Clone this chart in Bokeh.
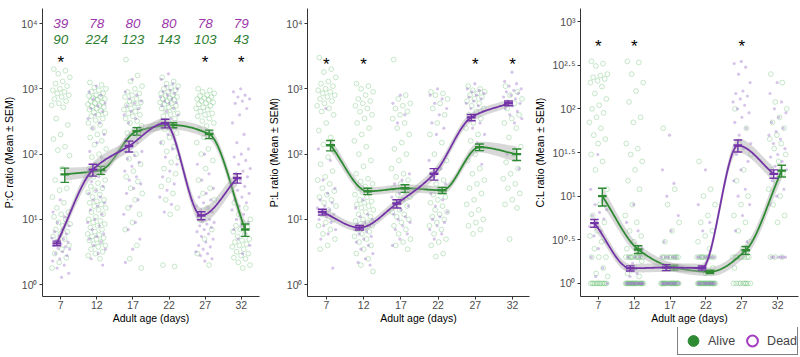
import numpy as np
from bokeh.plotting import figure
from bokeh.layouts import row, column
from bokeh.models import Range1d, FixedTicker, CustomJSTickFormatter, Legend, LegendItem, Label
from bokeh.core.properties import value
from bokeh.embed import file_html
from bokeh.resources import INLINE

# ---------------- data ----------------
AGES = [7, 12, 17, 22, 27, 32]
N_ALIVE = [90, 224, 123, 143, 103, 43]
N_DEAD = [39, 78, 80, 80, 78, 79]

# Panel a : P:C ratio
PC_ALIVE_MEAN = [49, 57, 225, 278, 203, 7.0]
PC_ALIVE_SEM = [12, 8, 30, 25, 30, 1.5]
PC_DEAD_MEAN = [4.3, 58, 133, 297, 11.5, 43]
PC_DEAD_SEM = [0.35, 12, 25, 45, 1.6, 7]
PC_ALIVE_BAND = [0.10, 0.07, 0.07, 0.07, 0.08, 0.12]
PC_DEAD_BAND = [0.07, 0.11, 0.09, 0.08, 0.12, 0.11]
PC_SIG = [7, 27, 32]

# Panel b : P:L ratio
PL_ALIVE_MEAN = [137, 27, 30, 28, 128, 100]
PL_ALIVE_SEM = [25, 3, 4, 3, 15, 20]
PL_DEAD_MEAN = [13, 7.5, 17.5, 50, 365, 600]
PL_DEAD_SEM = [1.3, 0.6, 2.5, 10, 40, 50]
PL_ALIVE_BAND = [0.10, 0.06, 0.06, 0.06, 0.08, 0.12]
PL_DEAD_BAND = [0.07, 0.06, 0.07, 0.08, 0.07, 0.06]
PL_SIG = [7, 12, 27, 32]

# Panel c : C:L ratio
CL_ALIVE_MEAN = [10, 2.45, 1.52, 1.36, 2.4, 19.6]
CL_ALIVE_SEM = [2.3, 0.25, 0.1, 0.06, 0.25, 3]
CL_DEAD_MEAN = [4.9, 1.49, 1.52, 1.5, 38, 18]
CL_DEAD_SEM = [0.5, 0.1, 0.12, 0.08, 6, 2]
CL_ALIVE_BAND = [0.10, 0.06, 0.05, 0.05, 0.07, 0.10]
CL_DEAD_BAND = [0.07, 0.05, 0.05, 0.05, 0.08, 0.08]
CL_SIG = [7, 12, 27]

PC_ALIVE_PTS = {
    7: [2000, 1900, 1700, 1500, 1300, 1200, 1100, 1000, 950, 900, 850, 800, 750, 700, 650, 600, 560, 520,
        350, 280, 200, 170, 130, 115, 95, 60, 40, 30, 28, 22, 18, 15, 13, 12, 11, 10, 9, 8.5, 8, 7, 6.5,
        6, 5.5, 5, 4.5, 4, 3.5, 3, 2.6, 2.2, 1.8],
    12: [1250, 1150, 1050, 1000, 950, 900, 850, 800, 780, 750, 720, 700, 680, 650, 620, 600, 580, 560, 540,
         520, 500, 480, 460, 440, 420, 400, 380, 350, 330, 300, 280, 250, 220, 200, 180, 160, 140, 120, 100,
         90, 80, 70, 60, 50, 45, 40, 36, 32, 30, 28, 26, 24, 22, 20, 19, 18, 17, 16, 15, 14, 13, 12, 11, 10,
         9.5, 9, 8.5, 8, 7.5, 7, 6.5, 6, 5.8, 5.5, 5.2, 5, 4.8, 4.5, 4.2, 4, 3.8, 3.5, 3.2, 3, 2.8, 2.5],
    17: [2800, 1600, 1300, 1100, 1000, 900, 850, 800, 750, 700, 650, 620, 600, 560, 520, 500, 480, 450, 420,
         400, 380, 350, 320, 300, 270, 240, 210, 180, 150, 120, 100, 85, 70, 55, 45, 38, 30, 25, 20, 15, 12,
         9, 7, 4, 2.5, 1.8],
    22: [1500, 1300, 1200, 1100, 1050, 1000, 950, 900, 850, 800, 780, 750, 720, 700, 680, 650, 620, 600, 580,
         550, 520, 500, 480, 450, 420, 400, 380, 350, 320, 300, 270, 240, 210, 180, 150, 130, 110, 90, 75, 60,
         50, 40, 32, 25, 20, 15, 12, 2.0, 1.9],
    27: [1000, 950, 900, 850, 800, 780, 750, 720, 700, 680, 650, 620, 600, 580, 550, 520, 500, 480, 450, 420,
         400, 380, 350, 320, 300, 270, 240, 210, 180, 150, 120, 100, 80, 60, 40, 30, 25, 20, 15, 10, 7, 5, 3, 2],
    32: [18, 15, 12, 10, 9, 8, 7.5, 7, 6.5, 6, 5.5, 5, 4.8, 4.5, 4.2, 4, 3.8, 3.5, 3.2, 3, 2.8, 2.6, 2.5,
         2.2, 2, 1.8],
}
PC_DEAD_PTS = {
    7: [20, 13, 11, 9, 8, 7, 6.5, 6, 5.5, 5.2, 5, 4.8, 4.5, 4.2, 4, 3.8, 3.6, 3.5, 3.2, 3, 2.8, 2.5, 2.3, 2,
        1.8, 1.5, 1.3],
    12: [1100, 900, 800, 700, 600, 550, 500, 450, 400, 350, 300, 250, 200, 150, 110, 90, 70, 55, 45, 38, 32,
         28, 25, 22, 20, 18, 16, 14, 12, 10, 9, 8, 7, 6, 5.5, 5, 4.5, 4, 3.5, 3, 2.5, 2],
    17: [1400, 900, 800, 700, 650, 600, 550, 500, 450, 400, 350, 300, 250, 200, 170, 150, 130, 110, 95, 85,
         75, 65, 55, 45, 40, 35, 30, 25, 20, 16, 12, 9, 7, 5, 3.5, 2.2],
    22: [1700, 1400, 1200, 1100, 1000, 950, 900, 850, 800, 750, 700, 650, 620, 600, 550, 500, 450, 400, 350,
         300, 250, 200, 150, 120, 90, 70, 55, 45, 35, 28, 22, 17, 13],
    27: [100, 70, 50, 40, 30, 25, 22, 20, 18, 16, 15, 14, 13, 12, 11, 10, 9.5, 9, 8.5, 8, 7.5, 7, 6.5, 6,
         5.5, 5, 4.5, 4, 3.8, 3.5, 3.2, 3, 2.8, 2.5, 2.3],
    32: [1000, 900, 800, 750, 700, 650, 600, 500, 400, 300, 200, 150, 120, 100, 90, 80, 70, 60, 55, 50, 45,
         40, 36, 32, 28, 25, 22, 20, 18, 16, 14, 12, 10, 9, 8, 7, 6, 5, 4, 3],
}

PL_ALIVE_PTS = {
    7: [3000, 2000, 1800, 1500, 1300, 1200, 1100, 1000, 950, 900, 850, 800, 750, 700, 650, 600, 550, 500,
        450, 400, 300, 230, 180, 140, 110, 90, 70, 55, 45, 40, 35, 30, 27, 24, 22, 20, 18, 16, 14, 12, 10,
        9, 8, 7, 6, 5, 4, 3.5],
    12: [1200, 1100, 1000, 900, 800, 700, 650, 600, 550, 500, 450, 400, 350, 300, 250, 200, 160, 130, 100,
         80, 65, 50, 42, 38, 35, 32, 30, 28, 26, 24, 22, 20, 19, 18, 17, 16, 15, 14, 13, 12, 11, 10, 9.5, 9,
         8.5, 8, 7.5, 7, 6.5, 6, 5.5, 5, 4.5, 4, 3.5, 3, 2.5, 2, 1.6],
    17: [2800, 800, 700, 600, 550, 500, 450, 400, 350, 300, 250, 200, 150, 120, 100, 80, 60, 50, 45, 40, 35,
         30, 27, 24, 22, 20, 18, 16, 14, 13, 12, 11, 10, 9, 8, 7, 6, 5, 4.5, 4, 3.5],
    22: [900, 850, 800, 700, 600, 500, 400, 300, 200, 150, 100, 80, 60, 50, 40, 35, 30, 27, 24, 22, 20, 18,
         16, 14, 13, 12, 11, 10, 9, 8, 7, 6, 5, 4.5, 4, 3, 2.7],
    27: [1100, 1000, 950, 900, 850, 800, 750, 700, 650, 600, 550, 500, 450, 400, 350, 300, 250, 200, 160,
         120, 100, 80, 60, 50, 40, 35, 30, 25, 20, 17, 14, 12, 10, 9, 8, 7, 6],
    32: [1100, 900, 800, 700, 600, 500, 400, 350, 300, 250, 180, 130, 100, 75, 60, 50, 42, 35, 30, 25, 20,
         17, 15, 5],
}
PL_DEAD_PTS = {
    7: [500, 120, 80, 40, 30, 25, 20, 18, 16, 15, 14, 13, 12, 11, 10, 9, 8, 7, 6, 5, 1.8],
    12: [20, 15, 12, 11, 10, 9, 8.5, 8, 7.5, 7, 6.5, 6, 5.5, 5, 4.5, 4, 3.5, 3, 2.5, 2.2, 2],
    17: [800, 600, 400, 300, 50, 40, 35, 30, 25, 22, 20, 18, 16, 14, 12, 11, 10, 9, 8, 7, 6, 5, 4],
    22: [1000, 800, 700, 600, 500, 400, 300, 250, 200, 80, 60, 45, 35, 30, 25, 20, 16, 13, 11, 10, 9, 8, 7,
         6, 5],
    27: [1200, 1000, 950, 900, 850, 800, 750, 700, 650, 600, 550, 500, 450, 400, 350, 300, 250, 200, 150,
         100, 70],
    32: [1800, 1300, 1200, 1100, 1000, 950, 900, 850, 800, 750, 700, 650, 600, 550, 500, 450, 400, 350, 300,
         100, 60],
}

CL_ALIVE_PTS = {
    7: [350, 330, 310, 250, 240, 230, 220, 210, 200, 180, 150, 130, 110, 100, 90, 80, 70, 60, 50, 45, 40, 30,
        25, 20, 12, 8, 6, 5, 4, 3.5, 3, 2.5, 2, 2, 2, 1.5, 1.3, 1.2, 1, 1, 1, 1, 1, 1, 1, 1, 1, 1, 1, 1],
    12: [350, 340, 250, 200, 160, 120, 80, 70, 40, 35, 30, 25, 20, 15, 12, 8, 6, 5, 4, 3.5, 3, 2.5, 2, 2, 2,
         2, 2, 2, 2, 2, 2, 2, 1.8, 1.5, 1.3, 1.2, 1, 1, 1, 1, 1, 1, 1, 1, 1, 1, 1, 1, 1, 1, 1, 1, 1, 1, 1, 1],
    17: [60, 12, 8, 5, 4, 3, 2, 2, 2, 2, 2, 2, 2, 2, 2, 1.5, 1, 1, 1, 1, 1, 1, 1, 1, 1, 1, 1, 1, 1, 1, 1, 1,
         1, 1, 1, 1],
    22: [25, 12, 10, 8, 6, 5, 4, 3.5, 3, 2.5, 2, 2, 2, 2, 2, 2, 2, 2, 2, 1.5, 1.3, 1, 1, 1, 1, 1, 1, 1, 1,
         1, 1, 1, 1, 1, 1, 1, 1, 1, 1, 1, 1, 1],
    27: [100, 60, 40, 30, 20, 15, 10, 8, 6, 5, 4, 3, 2.5, 2, 2, 2, 2, 2, 2, 2, 2, 1.5, 1, 1, 1, 1, 1, 1, 1,
         1, 1],
    32: [250, 200, 120, 100, 80, 70, 60, 50, 45, 40, 35, 30, 25, 20, 18, 15, 12, 10, 8, 6, 5, 2, 2, 2],
}
CL_DEAD_PTS = {
    7: [30, 12, 9, 8, 7, 6.5, 6, 5.5, 5, 4.5, 4, 3.5, 3, 2.5, 2, 1.5, 1.2, 1],
    12: [8, 5, 4, 3, 2.5, 2, 2, 2, 1.7, 1.5, 1.3, 1.2, 1, 1, 1, 1, 1, 1, 1, 1, 1, 1, 1, 1, 1, 1],
    17: [50, 20, 14, 10, 6, 4, 3, 2, 2, 2, 2, 2, 1.5, 1, 1, 1, 1, 1, 1, 1, 1, 1, 1, 1, 1],
    22: [20, 8, 5, 4, 2, 2, 2, 2, 2, 2, 2, 1.5, 1, 1, 1, 1, 1, 1, 1, 1, 1, 1, 1, 1],
    27: [350, 330, 300, 250, 200, 160, 150, 140, 130, 120, 110, 100, 90, 80, 70, 60, 50, 40, 35, 30, 25, 20,
         15, 12, 10, 8, 6, 4, 3],
    32: [200, 150, 120, 100, 90, 80, 70, 60, 55, 50, 45, 40, 35, 30, 28, 25, 22, 20, 18, 15, 12, 10, 8, 2, 2,
         2, 2, 2, 2],
}

LEGEND_LABELS = ["Alive", "Dead"]

# ---------------- style ----------------
FONT = "Liberation Sans"
GREEN = "#2e8b34"
PURPLE = "#7434a8"
GREEN_PT = "#5cb865"
PURPLE_PT = "#9466c4"
NUM_PURPLE = "#9c37ab"
NUM_GREEN = "#2e7d32"
LEGEND_PURPLE = "#a23cc0"
AXIS_COL = "#333333"

SUP = """
const sup = {"0":"\u2070","1":"\u00b9","2":"\u00b2","3":"\u00b3","4":"\u2074","5":"\u2075",
             "6":"\u2076","7":"\u2077","8":"\u2078","9":"\u2079",".":"\u00b7","-":"\u207b"};
const e = Math.round(Math.log10(tick) * 10) / 10;
return "10" + String(e).split("").map(c => sup[c]).join("");
"""


def pchip(xk, yk, xs):
    xk = np.asarray(xk, float)
    yk = np.asarray(yk, float)
    h = np.diff(xk)
    d = np.diff(yk) / h
    m = np.zeros_like(yk)
    for k in range(1, len(yk) - 1):
        if d[k - 1] * d[k] > 0:
            w1 = 2 * h[k] + h[k - 1]
            w2 = h[k] + 2 * h[k - 1]
            m[k] = (w1 + w2) / (w1 / d[k - 1] + w2 / d[k])
    m[0] = d[0]
    m[-1] = d[-1]
    idx = np.clip(np.searchsorted(xk, xs) - 1, 0, len(xk) - 2)
    hh = xk[idx + 1] - xk[idx]
    t = (xs - xk[idx]) / hh
    h00 = 2 * t**3 - 3 * t**2 + 1
    h10 = t**3 - 2 * t**2 + t
    h01 = -2 * t**3 + 3 * t**2
    h11 = t**3 - t**2
    return h00 * yk[idx] + h10 * hh * m[idx] + h01 * yk[idx + 1] + h11 * hh * m[idx + 1]


def style_axes(p):
    for ax in (p.xaxis[0], p.yaxis[0]):
        ax.axis_line_color = AXIS_COL
        ax.axis_line_width = 1
        ax.major_tick_line_color = AXIS_COL
        ax.major_tick_out = 3
        ax.major_tick_in = 0
        ax.minor_tick_line_color = None
        ax.major_label_text_color = "#4d4d4d"
        ax.major_label_text_font = FONT
        ax.major_label_text_font_size = "10.5px"
        ax.axis_label_text_font = FONT
        ax.axis_label_text_font_size = "10.5px"
        ax.axis_label_text_font_style = "normal"
        ax.axis_label_text_color = "black"
        ax.major_label_standoff = 2
        ax.axis_label_standoff = 3
    p.xaxis[0].major_label_standoff = 1
    p.xaxis[0].axis_label_standoff = 0
    p.xgrid.grid_line_color = None
    p.ygrid.grid_line_color = None
    p.outline_line_color = None


def draw_points(p, pts, color_kind, phase):
    xs, ys = [], []
    for age in AGES:
        vals = pts[age]
        n = len(vals)
        off = ((np.arange(n) * 0.6180339887 + phase) % 1.0 - 0.5) * 2.6
        xs.extend(list(age + off))
        ys.extend(vals)
    if color_kind == "alive":
        p.scatter(xs, ys, marker="circle", size=4.8, fill_color=None, line_color=GREEN_PT,
                  line_alpha=0.38, line_width=0.9)
    else:
        p.scatter(xs, ys, marker="circle", size=3.2, fill_color=PURPLE_PT, fill_alpha=0.38,
                  line_color=None)


def draw_group(p, mean, sem, band, color, dodge):
    xk = np.array(AGES, float) + dodge
    lk = np.log10(mean)
    xs = np.linspace(xk[0], xk[-1], 200)
    ls = pchip(xk, lk, xs)
    hw = np.interp(xs, xk, band)
    p.varea(x=xs, y1=10 ** (ls - hw), y2=10 ** (ls + hw), fill_color="#a8a8a8", fill_alpha=0.45)
    p.line(xs, 10 ** ls, line_color=color, line_width=1.8)
    lo = [m - s for m, s in zip(mean, sem)]
    hi = [m + s for m, s in zip(mean, sem)]
    cw = 0.6
    p.segment(x0=list(xk), y0=lo, x1=list(xk), y1=hi, line_color=color, line_width=1.4)
    p.segment(x0=list(xk - cw), y0=lo, x1=list(xk + cw), y1=lo, line_color=color, line_width=1.4)
    p.segment(x0=list(xk - cw), y0=hi, x1=list(xk + cw), y1=hi, line_color=color, line_width=1.4)
    p.segment(x0=list(xk - cw), y0=list(mean), x1=list(xk + cw), y1=list(mean), line_color=color,
              line_width=2.4)


def make_panel(letter, ylabel, a_mean, a_sem, d_mean, d_sem, a_band, d_band, a_pts, d_pts,
               sig, sig_y, yticks, ylog_range, xr, width, left, right, letter_x):
    p = figure(width=width, height=327, y_axis_type="log", output_backend="svg",
               toolbar_location=None, min_border_left=left, min_border_right=right,
               min_border_top=8, min_border_bottom=31,
               x_range=Range1d(*xr), y_range=Range1d(10 ** ylog_range[0], 10 ** ylog_range[1]))
    p.background_fill_color = "white"
    p.border_fill_color = "white"
    style_axes(p)
    p.xaxis.ticker = FixedTicker(ticks=AGES)
    p.yaxis.ticker = FixedTicker(ticks=yticks)
    p.yaxis.formatter = CustomJSTickFormatter(code=SUP)
    p.xaxis.axis_label = "Adult age (days)"
    p.yaxis.axis_label = ylabel

    draw_points(p, a_pts, "alive", 0.13)
    draw_points(p, d_pts, "dead", 0.47)
    draw_group(p, a_mean, a_sem, a_band, GREEN, 0.55)
    draw_group(p, d_mean, d_sem, d_band, PURPLE, -0.55)

    p.text(x=sig, y=[sig_y] * len(sig), text=["*"] * len(sig), text_align="center",
           text_baseline="middle", text_font=value(FONT), text_font_size="17px", text_color="black")

    p.add_layout(Label(x=letter_x, y=274, x_units="screen", y_units="screen", text=letter,
                       text_font=FONT, text_font_size="17px", text_font_style="bold",
                       text_color="black"))
    return p


pa = make_panel("a", "P:C ratio (Mean \u00b1 SEM)", PC_ALIVE_MEAN, PC_ALIVE_SEM, PC_DEAD_MEAN,
                PC_DEAD_SEM, PC_ALIVE_BAND, PC_DEAD_BAND, PC_ALIVE_PTS, PC_DEAD_PTS,
                PC_SIG, 10 ** 3.40, [1, 10, 100, 1000, 10000], (-0.18, 4.23), (4.47, 34.53),
                265, 33, 6, -28)
pa.text(x=AGES, y=[10 ** 4.0] * 6, text=[str(n) for n in N_DEAD], text_align="center",
        text_baseline="middle", text_font=value(FONT), text_font_size="13.5px",
        text_font_style="italic", text_color=NUM_PURPLE)
pa.text(x=AGES, y=[10 ** 3.75] * 6, text=[str(n) for n in N_ALIVE], text_align="center",
        text_baseline="middle", text_font=value(FONT), text_font_size="13.5px",
        text_font_style="italic", text_color=NUM_GREEN)

pb = make_panel("b", "P:L ratio (Mean \u00b1 SEM)", PL_ALIVE_MEAN, PL_ALIVE_SEM, PL_DEAD_MEAN,
                PL_DEAD_SEM, PL_ALIVE_BAND, PL_DEAD_BAND, PL_ALIVE_PTS, PL_DEAD_PTS,
                PL_SIG, 10 ** 3.38, [1, 10, 100, 1000, 10000], (-0.18, 4.23), (4.46, 34.27),
                265, 41, 1, -24)

pc = make_panel("c", "C:L ratio (Mean \u00b1 SEM)", CL_ALIVE_MEAN, CL_ALIVE_SEM, CL_DEAD_MEAN,
                CL_DEAD_SEM, CL_ALIVE_BAND, CL_DEAD_BAND, CL_ALIVE_PTS, CL_DEAD_PTS,
                CL_SIG, 10 ** 2.72, [10 ** (k / 2) for k in range(7)], (-0.15, 3.15), (4.51, 34.9),
                270, 48, 2, -30)

# legend strip below the panels (marker renderers sit outside the visible range)
pl = figure(width=800, height=30, output_backend="svg", toolbar_location=None,
            x_axis_type=None, y_axis_type=None, min_border=0,
            x_range=Range1d(0, 1), y_range=Range1d(0, 1))
pl.outline_line_color = None
pl.xgrid.grid_line_color = None
pl.ygrid.grid_line_color = None
r_alive = pl.scatter(x=[-5], y=[-5], marker="circle", size=13, fill_color=GREEN, line_color=GREEN)
r_dead = pl.scatter(x=[-5], y=[-5], marker="circle", size=13, fill_color=None,
                    line_color=LEGEND_PURPLE, line_width=2)
legend = Legend(items=[LegendItem(label=LEGEND_LABELS[0], renderers=[r_alive], index=0),
                       LegendItem(label=LEGEND_LABELS[1], renderers=[r_dead], index=0)],
                location="bottom_right", orientation="horizontal", glyph_width=30, glyph_height=27,
                padding=0, margin=2, spacing=2, label_standoff=0, label_text_font=FONT,
                label_text_font_size="12.5px", border_line_color="black", border_line_width=1.5,
                background_fill_color="white", background_fill_alpha=1.0, label_height=20)
pl.add_layout(legend)

layout = column(row(pa, pb, pc), pl)
open("out.html", "w").write(file_html(layout, INLINE))
